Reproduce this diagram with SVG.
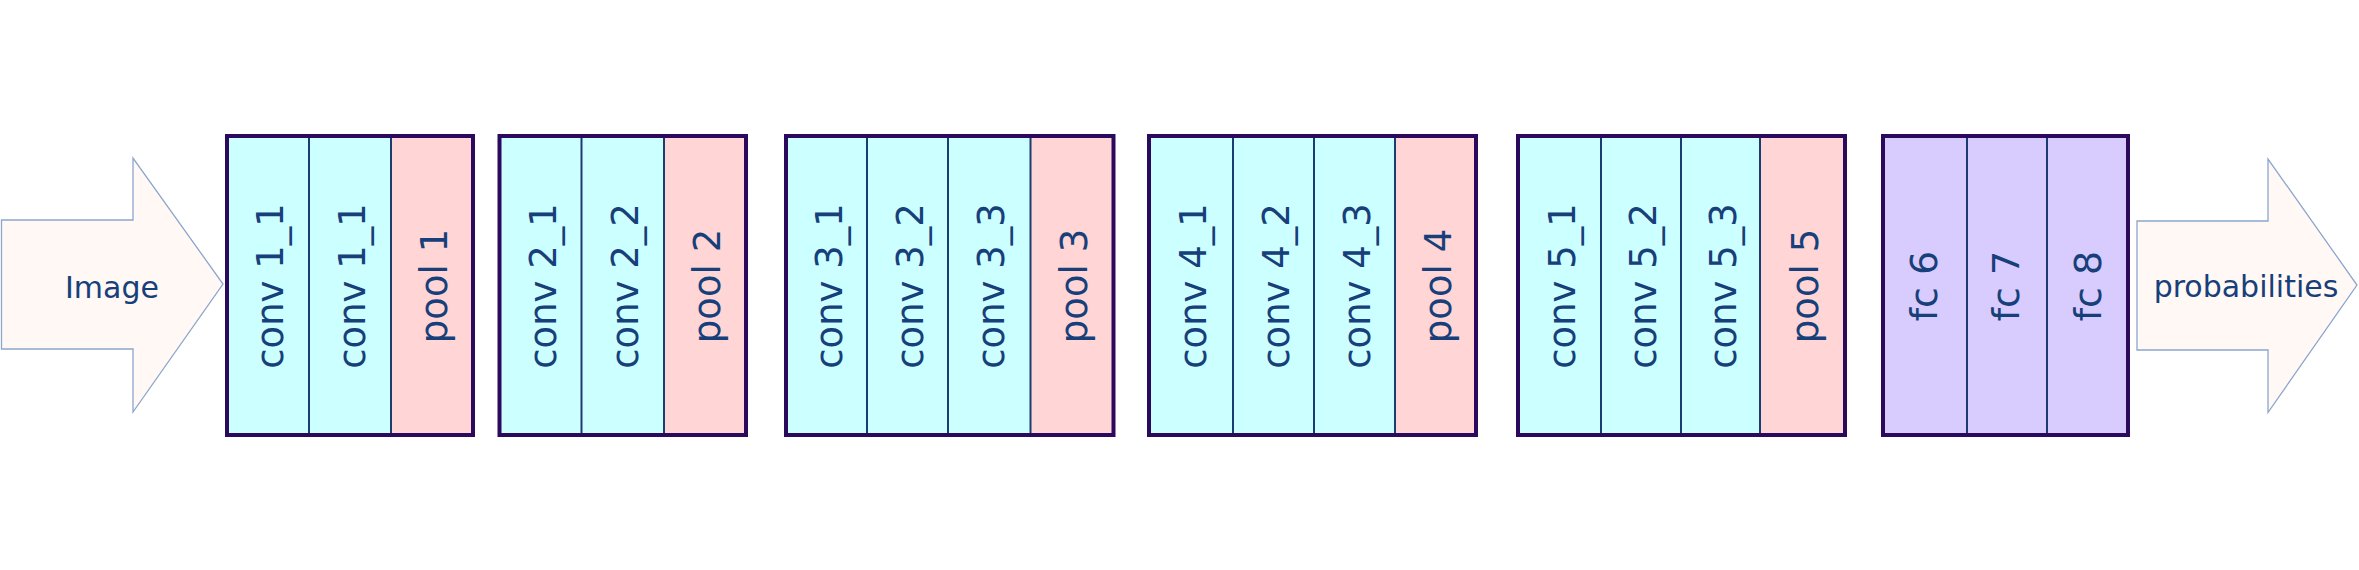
<svg xmlns="http://www.w3.org/2000/svg" width="2359" height="570" viewBox="0 0 2359 570">
<style>
.conv{fill:#CCFFFF}
.pool{fill:#FFD5D5}
.fc{fill:#D8CCFF}
.div{stroke:#1B3C73;stroke-width:2}
.frame{fill:none;stroke:#2B0A5E;stroke-width:4}
.lbl{font-family:"DejaVu Sans",sans-serif;font-size:37px;fill:#17407A;text-anchor:middle}
.fcl{font-family:"DejaVu Sans",sans-serif;font-size:38px;fill:#17407A;text-anchor:middle}
.arrow{fill:#FFF8F5;stroke:#8CA6CC;stroke-width:1.3}
.atxt{font-family:"DejaVu Sans",sans-serif;font-size:30px;fill:#17407A;text-anchor:middle}
</style>
<rect width="2359" height="570" fill="#FFFFFF"/>
<g id="image-arrow">
<polygon class="arrow" points="1.5,220 133,220 133,158 223,284 133,412 133,349 1.5,349"/>
<text class="atxt" x="112" y="298">Image</text>
</g>
<g id="block1">
<rect class="conv" x="227" y="136" width="82" height="299"/>
<rect class="conv" x="309" y="136" width="82" height="299"/>
<rect class="pool" x="391" y="136" width="82" height="299"/>
<line class="div" x1="309" y1="136" x2="309" y2="435"/>
<line class="div" x1="391" y1="136" x2="391" y2="435"/>
<rect class="frame" x="227" y="136" width="246" height="299"/>
<text class="lbl" transform="translate(283,286) rotate(-90)">conv 1_1</text>
<text class="lbl" transform="translate(365,286) rotate(-90)">conv 1_1</text>
<text class="lbl" transform="translate(447,286) rotate(-90)">pool 1</text>
</g>
<g id="block2">
<rect class="conv" x="499.5" y="136" width="82" height="299"/>
<rect class="conv" x="581.5" y="136" width="82.5" height="299"/>
<rect class="pool" x="664" y="136" width="82" height="299"/>
<line class="div" x1="581.5" y1="136" x2="581.5" y2="435"/>
<line class="div" x1="664" y1="136" x2="664" y2="435"/>
<rect class="frame" x="499.5" y="136" width="246.5" height="299"/>
<text class="lbl" transform="translate(555.5,286) rotate(-90)">conv 2_1</text>
<text class="lbl" transform="translate(638,286) rotate(-90)">conv 2_2</text>
<text class="lbl" transform="translate(720,286) rotate(-90)">pool 2</text>
</g>
<g id="block3">
<rect class="conv" x="786" y="136" width="81" height="299"/>
<rect class="conv" x="867" y="136" width="81" height="299"/>
<rect class="conv" x="948" y="136" width="82.5" height="299"/>
<rect class="pool" x="1030.5" y="136" width="83" height="299"/>
<line class="div" x1="867" y1="136" x2="867" y2="435"/>
<line class="div" x1="948" y1="136" x2="948" y2="435"/>
<line class="div" x1="1030.5" y1="136" x2="1030.5" y2="435"/>
<rect class="frame" x="786" y="136" width="327.5" height="299"/>
<text class="lbl" transform="translate(841.5,286) rotate(-90)">conv 3_1</text>
<text class="lbl" transform="translate(922.5,286) rotate(-90)">conv 3_2</text>
<text class="lbl" transform="translate(1004,286) rotate(-90)">conv 3_3</text>
<text class="lbl" transform="translate(1087,286) rotate(-90)">pool 3</text>
</g>
<g id="block4">
<rect class="conv" x="1149" y="136" width="84" height="299"/>
<rect class="conv" x="1233" y="136" width="81" height="299"/>
<rect class="conv" x="1314" y="136" width="81" height="299"/>
<rect class="pool" x="1395" y="136" width="81" height="299"/>
<line class="div" x1="1233" y1="136" x2="1233" y2="435"/>
<line class="div" x1="1314" y1="136" x2="1314" y2="435"/>
<line class="div" x1="1395" y1="136" x2="1395" y2="435"/>
<rect class="frame" x="1149" y="136" width="327" height="299"/>
<text class="lbl" transform="translate(1206,286) rotate(-90)">conv 4_1</text>
<text class="lbl" transform="translate(1288.5,286) rotate(-90)">conv 4_2</text>
<text class="lbl" transform="translate(1369.5,286) rotate(-90)">conv 4_3</text>
<text class="lbl" transform="translate(1450.5,286) rotate(-90)">pool 4</text>
</g>
<g id="block5">
<rect class="conv" x="1518" y="136" width="83" height="299"/>
<rect class="conv" x="1601" y="136" width="80" height="299"/>
<rect class="conv" x="1681" y="136" width="79" height="299"/>
<rect class="pool" x="1760" y="136" width="85" height="299"/>
<line class="div" x1="1601" y1="136" x2="1601" y2="435"/>
<line class="div" x1="1681" y1="136" x2="1681" y2="435"/>
<line class="div" x1="1760" y1="136" x2="1760" y2="435"/>
<rect class="frame" x="1518" y="136" width="327" height="299"/>
<text class="lbl" transform="translate(1574.5,286) rotate(-90)">conv 5_1</text>
<text class="lbl" transform="translate(1656,286) rotate(-90)">conv 5_2</text>
<text class="lbl" transform="translate(1735.5,286) rotate(-90)">conv 5_3</text>
<text class="lbl" transform="translate(1817.5,286) rotate(-90)">pool 5</text>
</g>
<g id="block6">
<rect class="fc" x="1883" y="136" width="84" height="299"/>
<rect class="fc" x="1967" y="136" width="80" height="299"/>
<rect class="fc" x="2047" y="136" width="81" height="299"/>
<line class="div" x1="1967" y1="136" x2="1967" y2="435"/>
<line class="div" x1="2047" y1="136" x2="2047" y2="435"/>
<rect class="frame" x="1883" y="136" width="245" height="299"/>
<text class="fcl" transform="translate(1937,286) rotate(-90)">fc 6</text>
<text class="fcl" transform="translate(2019,286) rotate(-90)">fc 7</text>
<text class="fcl" transform="translate(2101,286) rotate(-90)">fc 8</text>
</g>
<g id="probabilities-arrow">
<polygon class="arrow" points="2137,221 2268,221 2268,159 2357,285 2268,412.5 2268,350 2137,350"/>
<text class="atxt" x="2246" y="297">probabilities</text>
</g>
<g id="connectors"></g>
</svg>
